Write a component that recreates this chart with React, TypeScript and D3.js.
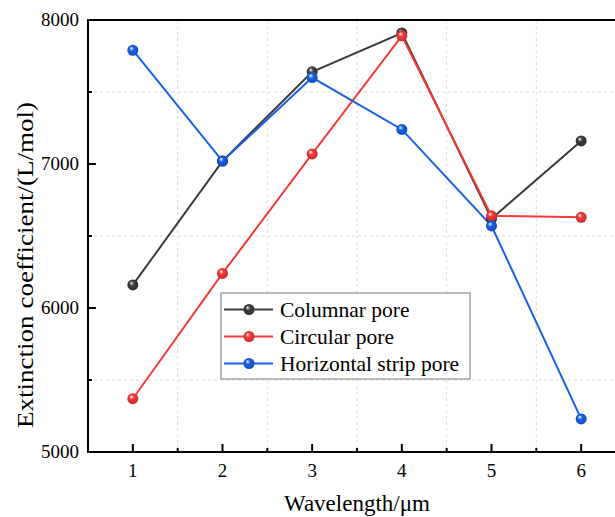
import React from 'react';
import * as d3 from 'd3';

const wavelengths = [1, 2, 3, 4, 5, 6];
const columnar = [6160, 7020, 7640, 7910, 6620, 7160];
const circular = [5370, 6240, 7070, 7890, 6640, 6630];
const horizontal = [7790, 7020, 7600, 7240, 6570, 5230];
const seriesNames = ['Columnar pore', 'Circular pore', 'Horizontal strip pore'];
const seriesColors = ['#3c3c3c', '#f53a3a', '#1860e6'];
const yTicks = [5000, 6000, 7000, 8000];

const W = 615;
const H = 517;
const LEFT = 88;
const TOP = 20;
const BOTTOM = 452;
const FONT = '"Liberation Serif", "Times New Roman", serif';

export default function App() {
  const x = d3.scaleLinear().domain([0.5, 6.5]).range([LEFT, 626]);
  const y = d3.scaleLinear().domain([5000, 8000]).range([BOTTOM, TOP]);
  const allSeries = [columnar, circular, horizontal];
  const line = d3.line<number>()
    .x((d, i) => x(wavelengths[i]))
    .y(d => y(d));

  const minorX = d3.range(1.5, 6.5, 1);
  const minorY = d3.range(5500, 8000, 1000);

  return (
    <svg width={W} height={H} style={{ position: 'absolute', left: 0, top: 0, background: '#fff' }}>
      <defs>
        {seriesColors.map((c, i) => (
          <radialGradient key={i} id={'ball' + i} cx="0.5" cy="0.5" fx="0.35" fy="0.3" r="0.6">
            <stop offset="0" stopColor="#fff" />
            <stop offset="0.35" stopColor={c} />
            <stop offset="1" stopColor={d3.color(c)!.darker(0.8).toString()} />
          </radialGradient>
        ))}
        <clipPath id="plot">
          <rect x={LEFT} y={TOP} width={W - LEFT} height={BOTTOM - TOP} />
        </clipPath>
      </defs>

      {/* grid */}
      <g stroke="#dcdcdc" strokeDasharray="3,3" strokeWidth={1}>
        {minorX.map(v => (
          <line key={'gx' + v} x1={x(v)} x2={x(v)} y1={TOP} y2={BOTTOM} />
        ))}
        {minorY.map(v => (
          <line key={'gy' + v} x1={LEFT} x2={W} y1={y(v)} y2={y(v)} />
        ))}
      </g>

      {/* axes frame */}
      <g stroke="#000" strokeWidth={2}>
        <line x1={LEFT} x2={LEFT} y1={TOP - 1} y2={BOTTOM + 1} />
        <line x1={LEFT - 1} x2={W} y1={BOTTOM} y2={BOTTOM} />
        <line x1={LEFT - 1} x2={W} y1={TOP} y2={TOP} />
        {wavelengths.map(v => (
          <line key={'tx' + v} x1={x(v)} x2={x(v)} y1={BOTTOM} y2={BOTTOM - 8} />
        ))}
        {minorX.map(v => (
          <line key={'mx' + v} x1={x(v)} x2={x(v)} y1={BOTTOM} y2={BOTTOM - 4} />
        ))}
        {yTicks.map(v => (
          <line key={'ty' + v} x1={LEFT} x2={LEFT + 8} y1={y(v)} y2={y(v)} />
        ))}
        {minorY.map(v => (
          <line key={'my' + v} x1={LEFT} x2={LEFT + 4} y1={y(v)} y2={y(v)} />
        ))}
      </g>

      <g fontFamily={FONT} fontSize={19} fill="#000">
        {wavelengths.map(v => (
          <text key={'lx' + v} x={x(v)} y={BOTTOM + 25} textAnchor="middle">{v}</text>
        ))}
        {yTicks.map(v => (
          <text key={'ly' + v} x={LEFT - 9} y={y(v) + 6} textAnchor="end">{v}</text>
        ))}
      </g>

      <text x={x(3.5)} y={511} textAnchor="middle" fontFamily={FONT} fontSize={23}>Wavelength/μm</text>
      <text transform="translate(33,265) rotate(-90)" textAnchor="middle" fontFamily={FONT} fontSize={23}
        textLength={326} lengthAdjust="spacingAndGlyphs">
        Extinction coefficient/(L/mol)
      </text>

      {/* series */}
      <g clipPath="url(#plot)">
        {allSeries.map((s, i) => (
          <path key={'l' + i} d={line(s) || ''} fill="none" stroke={seriesColors[i]} strokeWidth={2} />
        ))}
        {allSeries.map((s, i) => (
          <g key={'p' + i}>
            {s.map((v, j) => (
              <circle key={j} cx={x(wavelengths[j])} cy={y(v)} r={5.5} fill={`url(#ball${i})`} />
            ))}
          </g>
        ))}
      </g>

      {/* legend */}
      <g>
        <rect x={221} y={293} width={249} height={86} fill="#fff" stroke="#777" strokeWidth={1} />
        {seriesNames.map((n, i) => {
          const ly = 309.5 + i * 27;
          return (
            <g key={n}>
              <line x1={224} x2={273} y1={ly} y2={ly} stroke={seriesColors[i]} strokeWidth={2} />
              <circle cx={249} cy={ly} r={5.5} fill={`url(#ball${i})`} />
              <text x={280} y={ly + 7} fontFamily={FONT} fontSize={21.5}>{n}</text>
            </g>
          );
        })}
      </g>
    </svg>
  );
}
